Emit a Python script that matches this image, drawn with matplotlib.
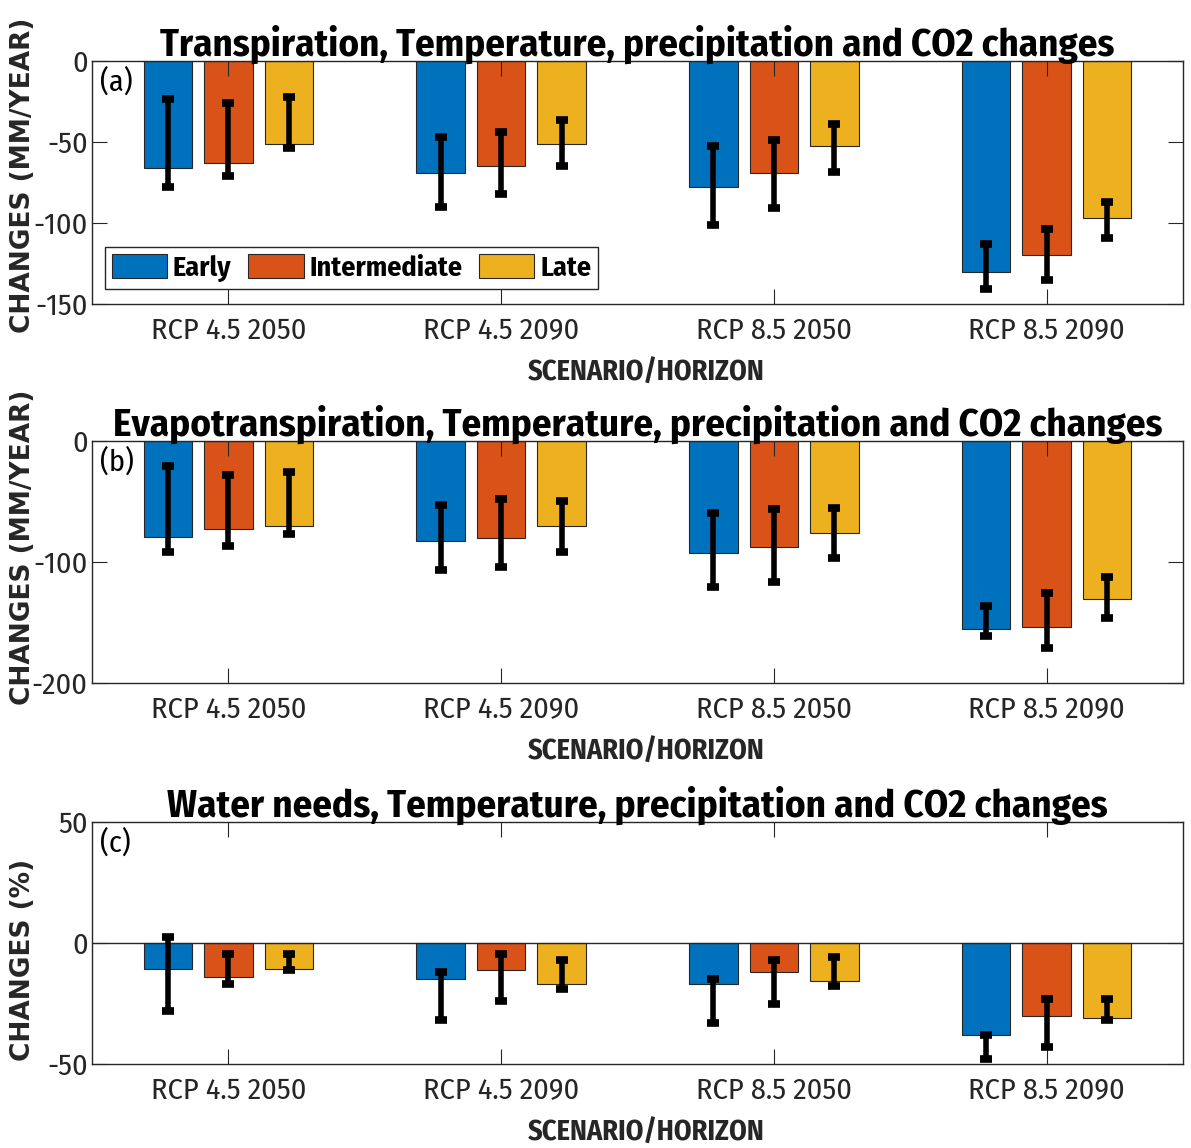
import numpy as np
import matplotlib.pyplot as plt
from matplotlib import font_manager

plt.rcParams['axes.unicode_minus'] = False

# Police étroite (proche d'Arial Narrow) si disponible
noms = {f.name for f in font_manager.fontManager.ttflist}
if 'Fira Sans Condensed' in noms:
    narrow, stretch = 'Fira Sans Condensed', 'normal'
else:
    narrow, stretch = 'DejaVu Sans', 'condensed'

# Données
scenarios = ['RCP 4.5 2050', 'RCP 4.5 2090', 'RCP 8.5 2050', 'RCP 8.5 2090']
periodes = ['Early', 'Intermediate', 'Late']

# (a) Transpiration (mm/an)
transp = [[-66, -63, -51], [-69, -65, -51.5], [-77.5, -69, -52.5], [-130, -120, -97]]
transp_lo = [[-78, -71, -54], [-90, -82, -65], [-101, -91, -68.5], [-141, -135, -109]]
transp_hi = [[-23.5, -26, -22], [-47, -44, -36.5], [-52.5, -49, -39], [-113, -104, -87]]

# (b) Evapotranspiration (mm/an)
evapo = [[-79, -73, -70], [-82.5, -80, -70], [-92.5, -87.5, -76], [-155.5, -153.5, -130.5]]
evapo_lo = [[-92, -87, -77], [-107, -104, -92], [-120.5, -116.5, -96.5], [-161, -171, -146]]
evapo_hi = [[-21, -28, -25.5], [-53, -48, -49.5], [-59.5, -56.5, -55], [-136.5, -125.5, -112.5]]

# (c) Besoins en eau (%)
water = [[-10.7, -14, -10.7], [-15, -11, -16.8], [-17, -12, -15.7], [-38, -30, -31]]
water_lo = [[-28, -16.8, -11], [-31.8, -24, -19], [-33, -25, -17.8], [-48, -43, -32]]
water_hi = [[2.5, -4.4, -4.4], [-12, -4.4, -7], [-15, -7, -5.8], [-38, -23, -23]]

titres = ['Transpiration, Temperature, precipitation and CO2 changes',
          'Evapotranspiration, Temperature, precipitation and CO2 changes',
          'Water needs, Temperature, precipitation and CO2 changes']
ylabels = ['CHANGES (MM/YEAR)', 'CHANGES (MM/YEAR)', 'CHANGES (%)']
lettres = ['(a)', '(b)', '(c)']
ylims = [(-150, 0), (-200, 0), (-50, 50)]
yticks = [[-150, -100, -50, 0], [-200, -100, 0], [-50, 0, 50]]
ylab_y = [0.53, 0.56, 0.43]

couleurs = ['#0072BD', '#D95319', '#EDB120']
gris = '#262626'

W, H = 1191, 1148
fig = plt.figure(figsize=(W / 100, H / 100), dpi=100)
rend = fig.canvas.get_renderer()


def ajuste(t, cible, vertical=False):
    # ajuste la taille de police pour une longueur cible (pixels)
    for _ in range(3):
        bb = t.get_window_extent(rend)
        long = bb.height if vertical else bb.width
        t.set_fontsize(t.get_fontsize() * cible / long)


positions = [(61, 304), (441, 683), (822, 1064)]
larg_titres = [955, 1050, 941]

series = [(transp, transp_lo, transp_hi), (evapo, evapo_lo, evapo_hi), (water, water_lo, water_hi)]
x = np.arange(1, len(scenarios) + 1)
offsets = [-0.222, 0.0, 0.222]
largeur = 0.178

# tailles mesurées sur un texte témoin
tmp = fig.text(0, 0, 'RCP 4.5 2050', fontsize=20, family=narrow, stretch=stretch)
ajuste(tmp, 155)
taille_ticks = tmp.get_fontsize()
tmp.set_text('SCENARIO/HORIZON'); tmp.set_weight('bold'); tmp.set_fontsize(20)
ajuste(tmp, 237)
taille_xlab = tmp.get_fontsize()
tmp.set_text('Intermediate'); tmp.set_fontsize(20)
ajuste(tmp, 153)
taille_leg = tmp.get_fontsize()
tmp.set_text('CHANGES (MM/YEAR)'); tmp.set_family('DejaVu Sans'); tmp.set_stretch('normal')
tmp.set_fontsize(20)
ajuste(tmp, 315)
taille_ylab = tmp.get_fontsize()
tmp.remove()

for i, (vals, lo, hi) in enumerate(series):
    top, bot = positions[i]
    ax = fig.add_axes([92 / W, 1 - bot / H, 1091 / W, (bot - top) / H])
    vals, lo, hi = np.array(vals), np.array(lo), np.array(hi)
    for j in range(3):
        ax.bar(x + offsets[j], vals[:, j], largeur, color=couleurs[j],
               edgecolor=gris, linewidth=0.8, label=periodes[j])
        centre = (lo[:, j] + hi[:, j]) / 2
        demi = (hi[:, j] - lo[:, j]) / 2
        ax.errorbar(x + offsets[j], centre, yerr=demi, fmt='none', ecolor='black',
                    elinewidth=4, capsize=4.5, capthick=5.5, zorder=3)
    if i == 2:
        ax.axhline(0, color=gris, linewidth=1.0, zorder=2)
    ax.set_xlim(0.5, 4.5)
    ax.set_ylim(*ylims[i])
    ax.set_yticks(yticks[i])
    ax.set_xticks(x)
    ax.set_xticklabels(scenarios)
    ax.tick_params(direction='in', length=11, width=0.8, colors=gris,
                   top=True, right=True, labelsize=taille_ticks)
    ax.tick_params(axis='x', pad=9)
    ax.tick_params(axis='y', pad=3)
    for lab in ax.get_xticklabels() + ax.get_yticklabels():
        lab.set_family(narrow)
        lab.set_stretch(stretch)
    for sp in ax.spines.values():
        sp.set_color(gris)
        sp.set_linewidth(1.0)
    t = ax.set_title(titres[i], fontsize=27, fontweight='bold', family=narrow,
                     stretch=stretch, pad=4)
    ajuste(t, larg_titres[i])
    ax.set_ylabel(ylabels[i], fontsize=taille_ylab, fontweight='bold',
                  family='DejaVu Sans', color=gris)
    ax.yaxis.set_label_coords(-0.051, ylab_y[i])
    ax.set_xlabel('SCENARIO/HORIZON', fontsize=taille_xlab, fontweight='bold',
                  family=narrow, stretch=stretch, color=gris)
    ax.xaxis.set_label_coords(0.508, -0.225)
    ax.text(0.007, 0.975, lettres[i], transform=ax.transAxes, ha='left', va='top',
            fontsize=taille_ticks, family=narrow, stretch=stretch, color='black')
    if i == 0:
        leg = ax.legend(loc='lower left', bbox_to_anchor=(0.012, 0.062), ncol=3,
                        prop={'family': narrow, 'weight': 'bold', 'size': taille_leg,
                              'stretch': stretch},
                        handlelength=1.97, handleheight=0.92, handletextpad=0.2,
                        columnspacing=0.6, borderpad=0.25, borderaxespad=0,
                        fancybox=False, framealpha=1, edgecolor=gris)
        leg.get_frame().set_linewidth(1.0)

fig.savefig('out.png', dpi=100)
